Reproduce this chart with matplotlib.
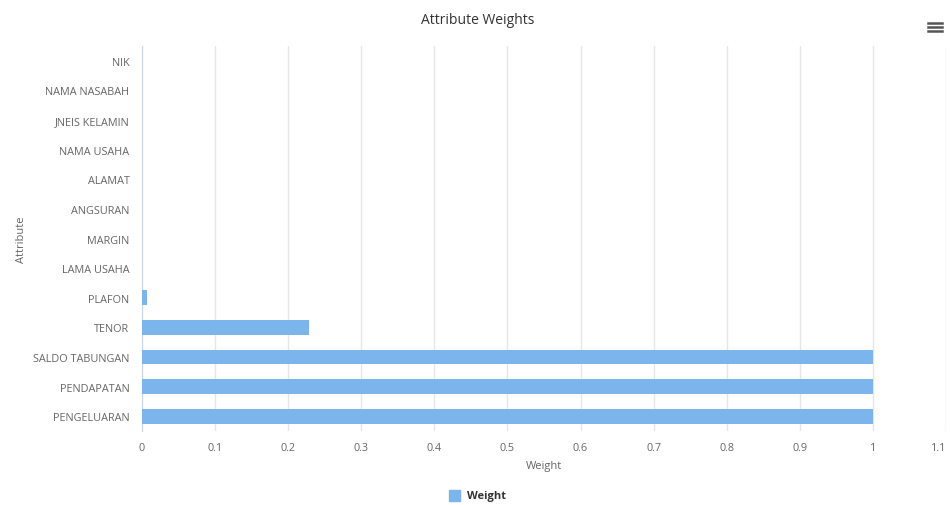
import matplotlib.pyplot as plt
from matplotlib.lines import Line2D
from matplotlib.patches import Rectangle

attributes = ["NIK", "NAMA NASABAH", "JNEIS KELAMIN", "NAMA USAHA", "ALAMAT",
              "ANGSURAN", "MARGIN", "LAMA USAHA", "PLAFON", "TENOR",
              "SALDO TABUNGAN", "PENDAPATAN", "PENGELUARAN"]
weights = [0, 0, 0, 0, 0, 0, 0, 0, 0.007, 0.228, 1, 1, 1]
x_ticks = [0, 0.1, 0.2, 0.3, 0.4, 0.5, 0.6, 0.7, 0.8, 0.9, 1, 1.1]
x_labels = ["0", "0.1", "0.2", "0.3", "0.4", "0.5", "0.6", "0.7", "0.8", "0.9", "1", "1.1"]

plt.rcParams['font.family'] = ['Open Sans', 'DejaVu Sans']
bar_color = "#7cb5ec"
label_color = "#666666"

fig = plt.figure(figsize=(9.5, 5.06), dpi=100)
ax = fig.add_axes([0.1495, 0.1462, 0.8463, 0.7608])

pos = list(range(len(attributes)))
ax.barh(pos, weights, height=0.5, color=bar_color, zorder=3)
ax.set_ylim(len(attributes) - 0.5, -0.5)
ax.set_yticks(pos)
ax.set_yticklabels(attributes, fontsize=7.8, color=label_color)
ax.set_xlim(0, 1.1)
ax.set_xticks(x_ticks)
ax.set_xticklabels(x_labels, fontsize=7.8, color=label_color)
ax.tick_params(axis="x", length=0, pad=8)
ax.tick_params(axis="y", length=0, pad=9)
# keep the last label inside the figure, as the original shifts it left
ax.get_xticklabels()[-1].set_horizontalalignment("right")

ax.grid(axis="x", color="#e6e6e6", linewidth=1, zorder=0)
for side in ["top", "right", "bottom"]:
    ax.spines[side].set_visible(False)
ax.spines["left"].set_color("#ccd6eb")

ax.set_xlabel("Weight", fontsize=8, color=label_color, labelpad=5)
ax.set_ylabel("Attribute", fontsize=8, color=label_color, labelpad=4)
ax.yaxis.set_label_coords(-0.143, 0.5)

fig.text(0.503, 1 - 20 / 506, "Attribute Weights", ha="center", va="center",
         fontsize=10, color="#333333")

# legend
fig.patches.append(Rectangle((449 / 950, 1 - 502 / 506), 11 / 950, 11 / 506,
                             transform=fig.transFigure, color=bar_color))
fig.text(467 / 950, 1 - 497 / 506, "Weight", ha="left", va="center",
         fontsize=8, fontweight="bold", color="#333333")

# menu icon
for yy in [23.5, 27.5, 31.5]:
    fig.add_artist(Line2D([928 / 950, 942 / 950], [1 - yy / 506, 1 - yy / 506],
                          color="#555555", linewidth=1.8))

fig.savefig("out.png", dpi=100)
